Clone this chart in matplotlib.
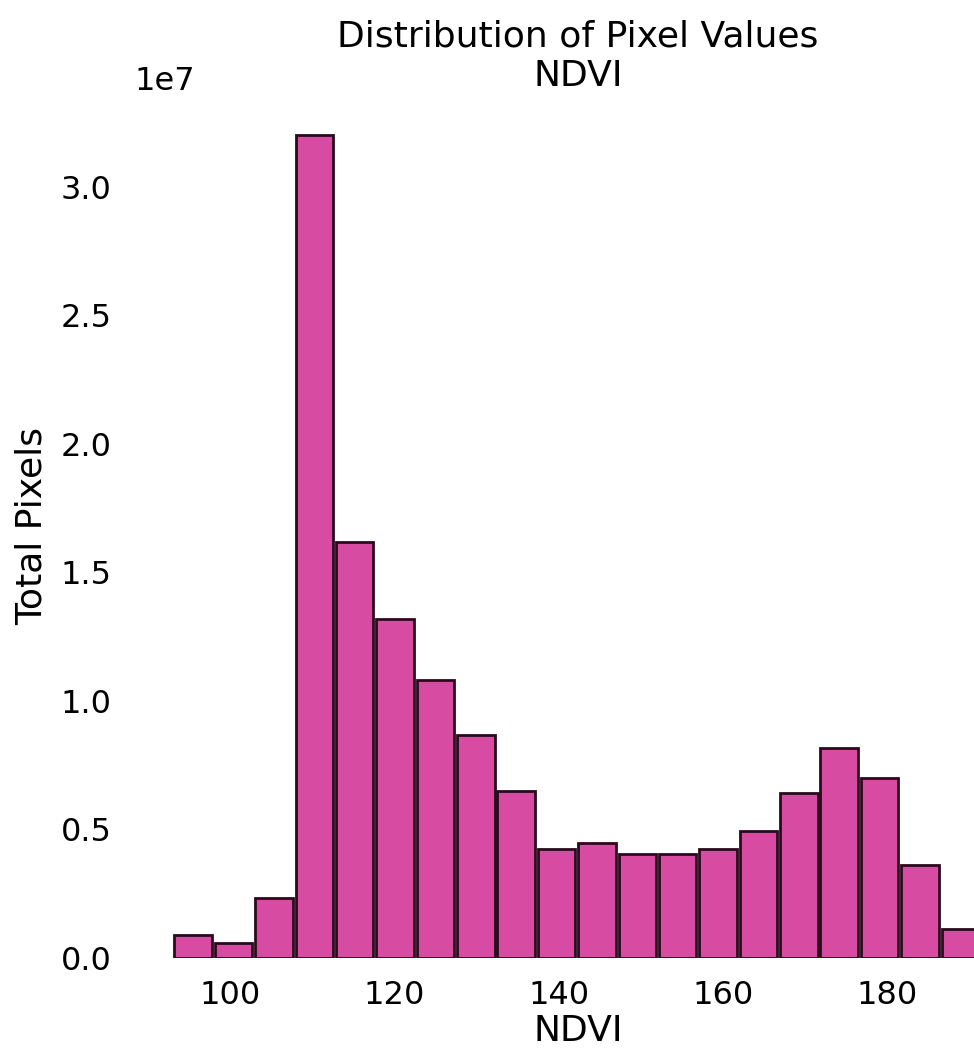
import numpy as np
import matplotlib
matplotlib.use("Agg")
import matplotlib.pyplot as plt

# histogram of NDVI pixel values (counts in units of 1e7)
bin_start = 93.2
bin_width = 4.915
counts = [0.090, 0.058, 0.233, 3.20, 1.62, 1.32, 1.08, 0.868, 0.650, 0.424,
          0.447, 0.405, 0.405, 0.424, 0.494, 0.642, 0.817, 0.700, 0.362, 0.113]
counts = np.array(counts) * 1e7
edges = bin_start + bin_width * np.arange(len(counts) + 1)

plt.rcParams['font.family'] = ['DejaVu Sans']

fig = plt.figure(figsize=(9.74, 10.56), dpi=100)
ax = fig.add_axes([0.1376, 0.0928, 0.912, 0.818])

ax.bar(edges[:-1], counts, width=bin_width * 0.93, align='edge',
       color='#d84ba2', edgecolor='#2b0a1c', linewidth=2)

ax.set_xlim(edges[0] - 0.05 * (edges[-1] - edges[0]),
            edges[-1] + 0.05 * (edges[-1] - edges[0]))
ax.set_ylim(0, counts.max() * 1.05)
ax.set_xticks([100, 120, 140, 160, 180])
ax.set_yticks([0, 0.5e7, 1.0e7, 1.5e7, 2.0e7, 2.5e7, 3.0e7])

for s in ax.spines.values():
    s.set_visible(False)
ax.tick_params(length=0, labelsize=23, pad=16)
ax.yaxis.get_offset_text().set_fontsize(23)

ax.set_title('Distribution of Pixel Values\nNDVI', fontsize=26, pad=6)
ax.set_xlabel('NDVI', fontsize=26, labelpad=2)
ax.set_ylabel('Total Pixels', fontsize=26, labelpad=9)

fig.savefig('out.png', dpi=100)
